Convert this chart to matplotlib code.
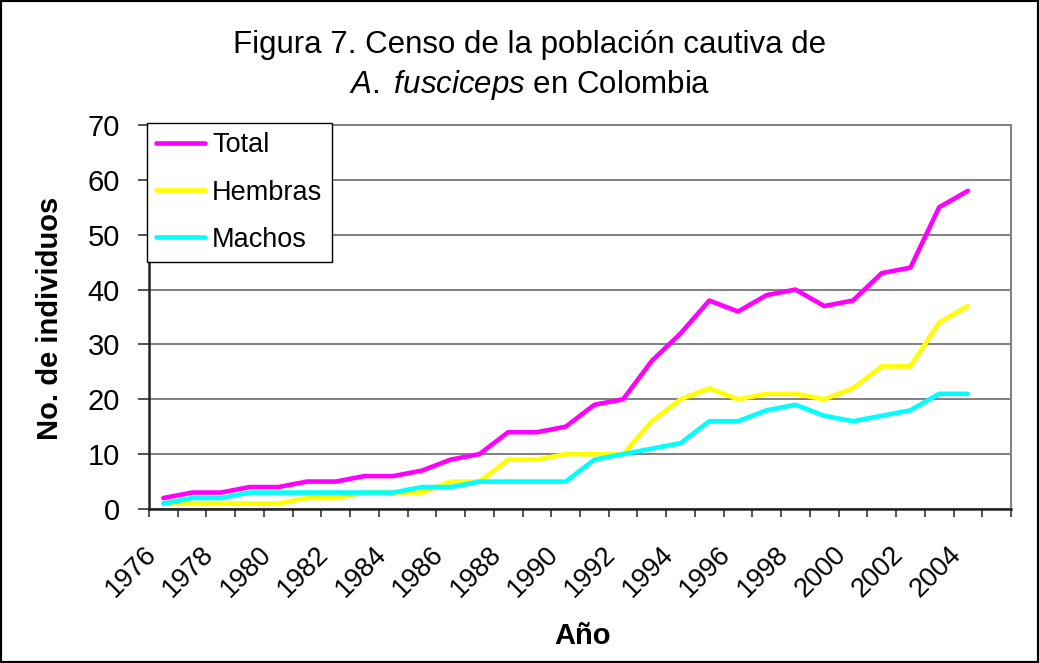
import numpy as np
import matplotlib.pyplot as plt
import matplotlib.transforms as mtransforms
from matplotlib.patches import Rectangle

# --- Daten ---------------------------------------------------------------------
years = list(range(1976, 2005))
total = [2, 3, 3, 4, 4, 5, 5, 6, 6, 7, 9, 10, 14, 14, 15, 19, 20, 27, 32, 38,
         36, 39, 40, 37, 38, 43, 44, 55, 58]
hembras = [1, 1, 1, 1, 1, 2, 2, 3, 3, 3, 5, 5, 9, 9, 10, 10, 10, 16, 20, 22,
           20, 21, 21, 20, 22, 26, 26, 34, 37]
machos = [1, 2, 2, 3, 3, 3, 3, 3, 3, 4, 4, 5, 5, 5, 5, 9, 10, 11, 12, 16,
          16, 18, 19, 17, 16, 17, 18, 21, 21]
tick_years = years[::2]
yticks = [0, 10, 20, 30, 40, 50, 60, 70]

plt.rcParams['font.family'] = ['Liberation Sans', 'DejaVu Sans']
plt.rcParams['mathtext.fontset'] = 'custom'
plt.rcParams['mathtext.rm'] = 'Liberation Sans'
plt.rcParams['mathtext.it'] = 'Liberation Sans:italic'

W, H = 1039, 663
fig = plt.figure(figsize=(W / 100, H / 100), dpi=100)
ax = fig.add_axes([149 / W, 1 - 509 / H, (1011 - 149) / W, (509 - 125) / H])

# Linien
ax.plot(years, total, color="#ff00ff", lw=3.3, label="Total", solid_capstyle="round")
ax.plot(years, hembras, color="#ffff00", lw=3.3, label="Hembras", solid_capstyle="round")
ax.plot(years, machos, color="#00ffff", lw=3.3, label="Machos", solid_capstyle="round")

ax.set_xlim(1975.5, 2005.5)
ax.set_ylim(0, 70)

# Gitter
ax.set_yticks(yticks)
ax.yaxis.grid(True, color="#808080", lw=1.4)
ax.set_axisbelow(True)

for s in ("top", "right"):
    ax.spines[s].set_color("#808080")
    ax.spines[s].set_linewidth(1.4)
for s in ("left", "bottom"):
    ax.spines[s].set_color("#222222")
    ax.spines[s].set_linewidth(1.8)

ax.tick_params(axis="y", direction="out", length=8, width=1.3, color="#444444",
               labelsize=21, pad=13)

# x-Achse: Striche zwischen den Kategorien, Beschriftung alle 2 Jahre
ax.set_xticks(np.arange(1975.5, 2006, 1), minor=True)
ax.set_xticks(tick_years)
ax.set_xticklabels([str(y) for y in tick_years], rotation=45, ha="right",
                   va="center", rotation_mode="anchor")
ax.tick_params(axis="x", which="minor", direction="out", length=6, width=1.3,
               color="#444444")
ax.tick_params(axis="x", which="major", length=0, labelsize=19.5, pad=30)
offset = mtransforms.ScaledTranslation(-11 / 100, 0, fig.dpi_scale_trans)
for lab in ax.get_xticklabels():
    lab.set_transform(lab.get_transform() + offset)

# Achsentitel
fig.text(50 / W, 1 - 318 / H, "No. de individuos", rotation=90, ha="center",
         va="center", fontsize=21, fontweight="bold")
fig.text(583 / W, 1 - 636 / H, "Año", ha="center", va="center", fontsize=21,
         fontweight="bold")

# Titel
fig.text(530 / W, 1 - 45 / H, "Figura 7. Censo de la población cautiva de",
         ha="center", va="center", fontsize=22.5)
fig.text(530 / W, 1 - 85 / H, r"$\mathit{A.\ fusciceps}$ en Colombia",
         ha="center", va="center", fontsize=22.5)

# Legende
leg = ax.legend(loc="upper left", bbox_to_anchor=(147 / W, 1 - 123 / H),
                bbox_transform=fig.transFigure, borderaxespad=0, fontsize=19.5,
                fancybox=False, frameon=True, framealpha=1, edgecolor="black",
                borderpad=0.35, handlelength=1.8, handletextpad=0.25,
                labelspacing=0.78)
leg.get_frame().set_linewidth(1.0)

# Rahmen um die ganze Grafik
fig.patches.append(Rectangle((0, 0), 1, 1, transform=fig.transFigure, fill=False,
                             edgecolor="black", lw=3, zorder=10))

fig.savefig("out.png", dpi=100)
plt.close(fig)
